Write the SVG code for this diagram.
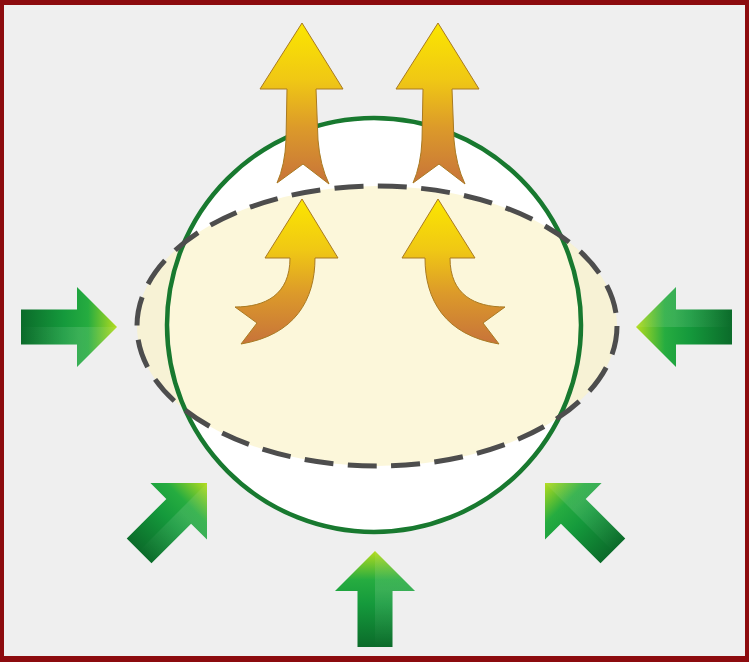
<svg xmlns="http://www.w3.org/2000/svg" width="749" height="662" viewBox="0 0 749 662">
  <defs>
    <linearGradient id="gGreen" x1="0" y1="1" x2="0" y2="0">
      <stop offset="0" stop-color="#0b6b2a"/>
      <stop offset="0.45" stop-color="#159a3c"/>
      <stop offset="0.7" stop-color="#26ac40"/>
      <stop offset="1" stop-color="#b4dc1e"/>
    </linearGradient>
    <linearGradient id="gHi" x1="0" y1="1" x2="0" y2="0">
      <stop offset="0" stop-color="#ffffff" stop-opacity="0"/>
      <stop offset="0.6" stop-color="#ffffff" stop-opacity="0.12"/>
      <stop offset="1" stop-color="#ffffff" stop-opacity="0.05"/>
    </linearGradient>
    <linearGradient id="gOrange" x1="0" y1="0" x2="0" y2="1">
      <stop offset="0" stop-color="#fbe600"/>
      <stop offset="0.35" stop-color="#f0c814"/>
      <stop offset="0.65" stop-color="#dc9a2a"/>
      <stop offset="1" stop-color="#c7733a"/>
    </linearGradient>
    <g id="greenArrow">
      <path d="M0,0 L40,40 L17.5,40 L17.5,96 L-17.5,96 L-17.5,40 L-40,40 Z" fill="url(#gGreen)"/>
      <path d="M0,0 L40,40 L17.5,40 L17.5,96 L0,96 Z" fill="url(#gHi)"/>
    </g>
  </defs>
  <style>
    .orange { fill: url(#gOrange); stroke: #a97a22; stroke-width: 1; stroke-linejoin: miter; }
  </style>
  <rect x="0" y="0" width="749" height="662" fill="#8c0b0e"/>
  <rect x="4" y="5" width="741" height="651" fill="#efefef"/>

  <g id="circle-fill">
    <circle cx="374" cy="325" r="207" fill="#ffffff"/>
  </g>
  <g id="ellipse-fill">
    <ellipse cx="377" cy="326" rx="240" ry="140" fill="#faf3c6" fill-opacity="0.65"/>
  </g>
  <g id="circle">
    <circle cx="374" cy="325" r="207" fill="none" stroke="#18792f" stroke-width="4.5"/>
  </g>
  <g id="ellipse">
    <ellipse cx="377" cy="326" rx="240" ry="140" fill="none" stroke="#4d4d4d" stroke-width="5" stroke-dasharray="29 14.4"/>
  </g>

  <g id="connectors">
    <g id="arrow-left"><use href="#greenArrow" transform="translate(117,327) rotate(90)"/></g>
    <g id="arrow-right"><use href="#greenArrow" transform="translate(636,327) rotate(-90)"/></g>
    <g id="arrow-bottom"><use href="#greenArrow" transform="translate(375,551)"/></g>
    <g id="arrow-lower-left"><use href="#greenArrow" transform="translate(207,483) rotate(45)"/></g>
    <g id="arrow-lower-right"><use href="#greenArrow" transform="translate(545,483) rotate(-45)"/></g>

    <g id="arrow-top-left">
      <path class="orange" d="M302,23 L343,89 L316,89 L318,140 Q320,165 329,184 L303,164 L277,183 Q285,165 286,140 L287,89 L260,89 Z"/>
    </g>
    <g id="arrow-top-right">
      <path class="orange" transform="translate(136,0)" d="M302,23 L343,89 L316,89 L318,140 Q320,165 329,184 L303,164 L277,183 Q285,165 286,140 L287,89 L260,89 Z"/>
    </g>
    <g id="arrow-curve-left">
      <path class="orange" d="M302,199 L338,258 L315,258 C315,300 295,335 241,344 L257,323 L235,307 C265,307 290,295 290,258 L265,258 Z"/>
    </g>
    <g id="arrow-curve-right">
      <path class="orange" transform="translate(740,0) scale(-1,1)" d="M302,199 L338,258 L315,258 C315,300 295,335 241,344 L257,323 L235,307 C265,307 290,295 290,258 L265,258 Z"/>
    </g>
  </g>
</svg>
